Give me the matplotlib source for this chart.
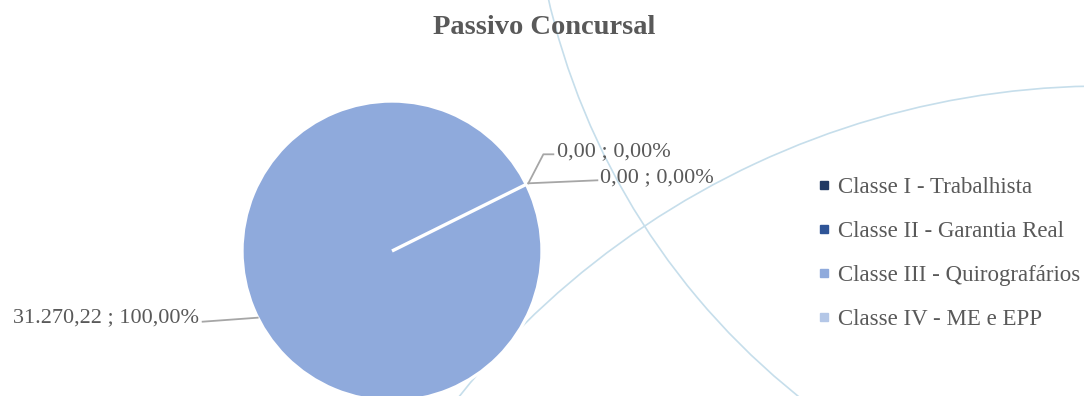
import numpy as np
import matplotlib
matplotlib.use('Agg')
import matplotlib.pyplot as plt
from matplotlib.patches import Arc
from matplotlib.lines import Line2D

categories = ['Classe I - Trabalhista', 'Classe II - Garantia Real',
              'Classe III - Quirografários', 'Classe IV - ME e EPP']
values = [0.00, 0.00, 31270.22, 0.00]
colors = ['#1F3864', '#2F5597', '#8FAADC', '#B4C7E7']
title = 'Passivo Concursal'

plt.rcParams['font.family'] = ['Liberation Serif', 'DejaVu Serif']
text_color = '#595959'


def fmt_br(v):
    s = f'{v:,.2f}'
    return s.replace(',', 'X').replace('.', ',').replace('X', '.')


fig = plt.figure(figsize=(10.84, 3.96), dpi=100)
ax = fig.add_axes([0, 0, 1, 1])

# decorative background arcs
arc_color = '#C6DEEB'
ax.add_patch(Arc((1245, 396 + 162), 2 * 715, 2 * 715, theta1=180, theta2=260,
                 color=arc_color, lw=1.2, zorder=0))
ax.add_patch(Arc((1105, 396 - 913), 2 * 827, 2 * 827, theta1=80, theta2=150,
                 color=arc_color, lw=1.2, zorder=0))

center = (392, 145)
radius = 150
start = 26.4
wedges, _ = ax.pie(values, colors=colors, startangle=start, counterclock=False,
                   center=center, radius=radius,
                   wedgeprops=dict(edgecolor='white', linewidth=2.4,
                                   joinstyle='bevel'))
for w in wedges:
    w.set_zorder(2)

total = sum(values)
labels = [f'{fmt_br(v)} ; {fmt_br(v / total * 100)}%' for v in values]

# mid angles of each slice
angles = []
a = start
for v in values:
    sweep = v / total * 360
    angles.append(a - sweep / 2)
    a -= sweep
edge = [(center[0] + radius * np.cos(np.radians(t)),
         center[1] + radius * np.sin(np.radians(t))) for t in angles]

lc = '#A6A6A6'
fs = 16
# Classe I label
ex, ey = edge[0]
ax.plot([ex + 2, ex + 17, ex + 27], [ey + 1, ey + 30, ey + 30], color=lc, lw=1.3, zorder=3)
ax.text(ex + 31, ey + 33, labels[0], fontsize=fs, color=text_color, va='center', ha='left')
# Classe IV label
ex, ey = edge[3]
ax.plot([ex + 2, ex + 71], [ey + 1, ey + 4], color=lc, lw=1.3, zorder=3)
ax.text(ex + 74, ey + 7, labels[3], fontsize=fs, color=text_color, va='center', ha='left')
# Classe III label
ex, ey = edge[2]
ax.plot([ex, ex - 55], [ey, ey - 4], color=lc, lw=1.3, zorder=3)
ax.text(ex - 59, ey + 0, labels[2], fontsize=fs, color=text_color, va='center', ha='right')

ax.set_xlim(0, 1084)
ax.set_ylim(0, 396)
ax.set_aspect('equal')
ax.axis('off')

fig.text(0.502, 0.93, title, fontsize=20.5, fontweight='bold', color=text_color,
         ha='center', va='center')

handles = [Line2D([], [], marker='s', linestyle='none', markersize=5.5,
                  markerfacecolor=c, markeredgecolor=c) for c in colors]
fig.legend(handles, categories, loc='center left', bbox_to_anchor=(0.754, 0.36),
           frameon=False, fontsize=16.5, labelcolor=text_color,
           handlelength=0.6, handletextpad=0.3,
           labelspacing=1.0, borderpad=0, borderaxespad=0)

fig.savefig('out.png', dpi=100)
